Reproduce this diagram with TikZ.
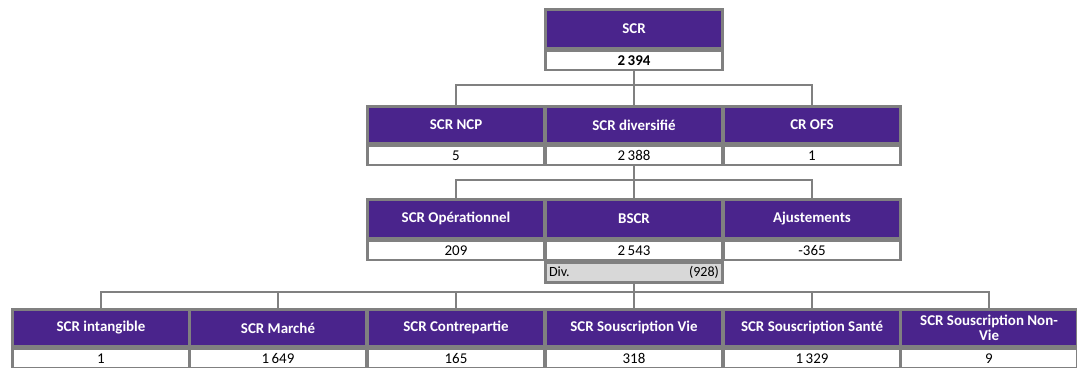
\documentclass[tikz,border=0pt]{standalone}
\usepackage{fontspec}
\setmainfont{Carlito}
\usetikzlibrary{positioning,calc}
\definecolor{scrviolet}{RGB}{74,36,140}
\definecolor{scrgray}{RGB}{128,128,128}
\definecolor{divgray}{RGB}{216,216,216}
\tikzset{
    head/.style={draw=scrgray, line width=1.5pt, fill=scrviolet, text=white,
        font=\bfseries\fontsize{8.5}{9}\selectfont, align=center,
        minimum width=3.54cm, minimum height=0.78cm, inner sep=1pt, anchor=north},
    val/.style={draw=scrgray, line width=1.5pt, fill=white,
        font=\fontsize{8.5}{9}\selectfont,
        minimum width=3.54cm, minimum height=0.38cm, inner sep=0pt, anchor=north},
    divrow/.style={draw=scrgray, line width=1.5pt, fill=divgray,
        font=\fontsize{8}{9}\selectfont, text width=3.54cm-4pt,
        minimum height=0.4cm, inner xsep=2pt, inner ysep=0pt, anchor=north},
    link/.style={draw=scrgray, line width=1.5pt},
    lowhead/.style={head, minimum height=0.74cm}
}
\begin{document}
\begin{tikzpicture}[x=0.02cm, y=-0.02cm]
    % 定义画面大小
    \useasboundingbox (0,0) rectangle (1077,368);
    
    % 第一层
    \node[head] (scr) at (634,8) {SCR};
    \node[val, font=\bfseries\fontsize{8.5}{9}\selectfont] (scrv) at (scr.south) {2\,394};
    
    % 第二层
    \node[lowhead] (ncp) at (456,105) {SCR NCP};
    \node[val] (ncpv) at (ncp.south) {5};
    \node[lowhead] (diversifie) at (634,105) {SCR diversifié};
    \node[val] (diversifiev) at (diversifie.south) {2\,388};
    \node[lowhead] (crofs) at (812,105) {CR OFS};
    \node[val] (crofsv) at (crofs.south) {1};
    
    % 第三层
    \node[head] (operationnel) at (456,198) {SCR Opérationnel};
    \node[val] (operationnelv) at (operationnel.south) {209};
    \node[head] (bscr) at (634,198) {BSCR};
    \node[val] (bscrv) at (bscr.south) {2\,543};
    \node[divrow] (div) at (bscrv.south) {\noindent Div.\hfill(928)};
    \node[head] (ajustements) at (812,198) {Ajustements};
    \node[val] (ajustementsv) at (ajustements.south) {-365};
    
    % 第四层
    \node[lowhead] (intangible) at (101,308) {SCR intangible};
    \node[val] (intangiblev) at (intangible.south) {1};
    \node[lowhead] (marche) at (278,308) {SCR Marché};
    \node[val] (marchev) at (marche.south) {1\,649};
    \node[lowhead] (contrepartie) at (456,308) {SCR Contrepartie};
    \node[val] (contrepartiev) at (contrepartie.south) {165};
    \node[lowhead] (vie) at (634,308) {SCR Souscription Vie};
    \node[val] (viev) at (vie.south) {318};
    \node[lowhead] (sante) at (812,308) {SCR Souscription Santé};
    \node[val] (santev) at (sante.south) {1\,329};
    \node[lowhead, font=\bfseries\fontsize{8.5}{8.5}\selectfont] (nonvie) at (989,308) {SCR Souscription Non-\\Vie};
    \node[val] (nonviev) at (nonvie.south) {9};
    
    % 连接线
    \coordinate (bara) at (0,85);
    \coordinate (barb) at (0,180);
    \coordinate (barc) at (0,292);
    \draw[link] (scrv.south) -- (scrv.south |- bara);
    \draw[link] (ncp.north) |- (bara -| crofs.north) -- (crofs.north);
    \draw[link] (diversifie.north) -- (diversifie.north |- bara);
    
    \draw[link] (diversifiev.south) -- (diversifiev.south |- barb);
    \draw[link] (operationnel.north) |- (barb -| ajustements.north) -- (ajustements.north);
    \draw[link] (bscr.north) -- (bscr.north |- barb);
    
    \draw[link] (div.south) -- (div.south |- barc);
    \draw[link] (intangible.north) |- (barc -| nonvie.north) -- (nonvie.north);
    \foreach \n in {marche, contrepartie, vie, sante}
        \draw[link] (\n.north) -- (\n.north |- barc);
    
\end{tikzpicture}
\end{document}
